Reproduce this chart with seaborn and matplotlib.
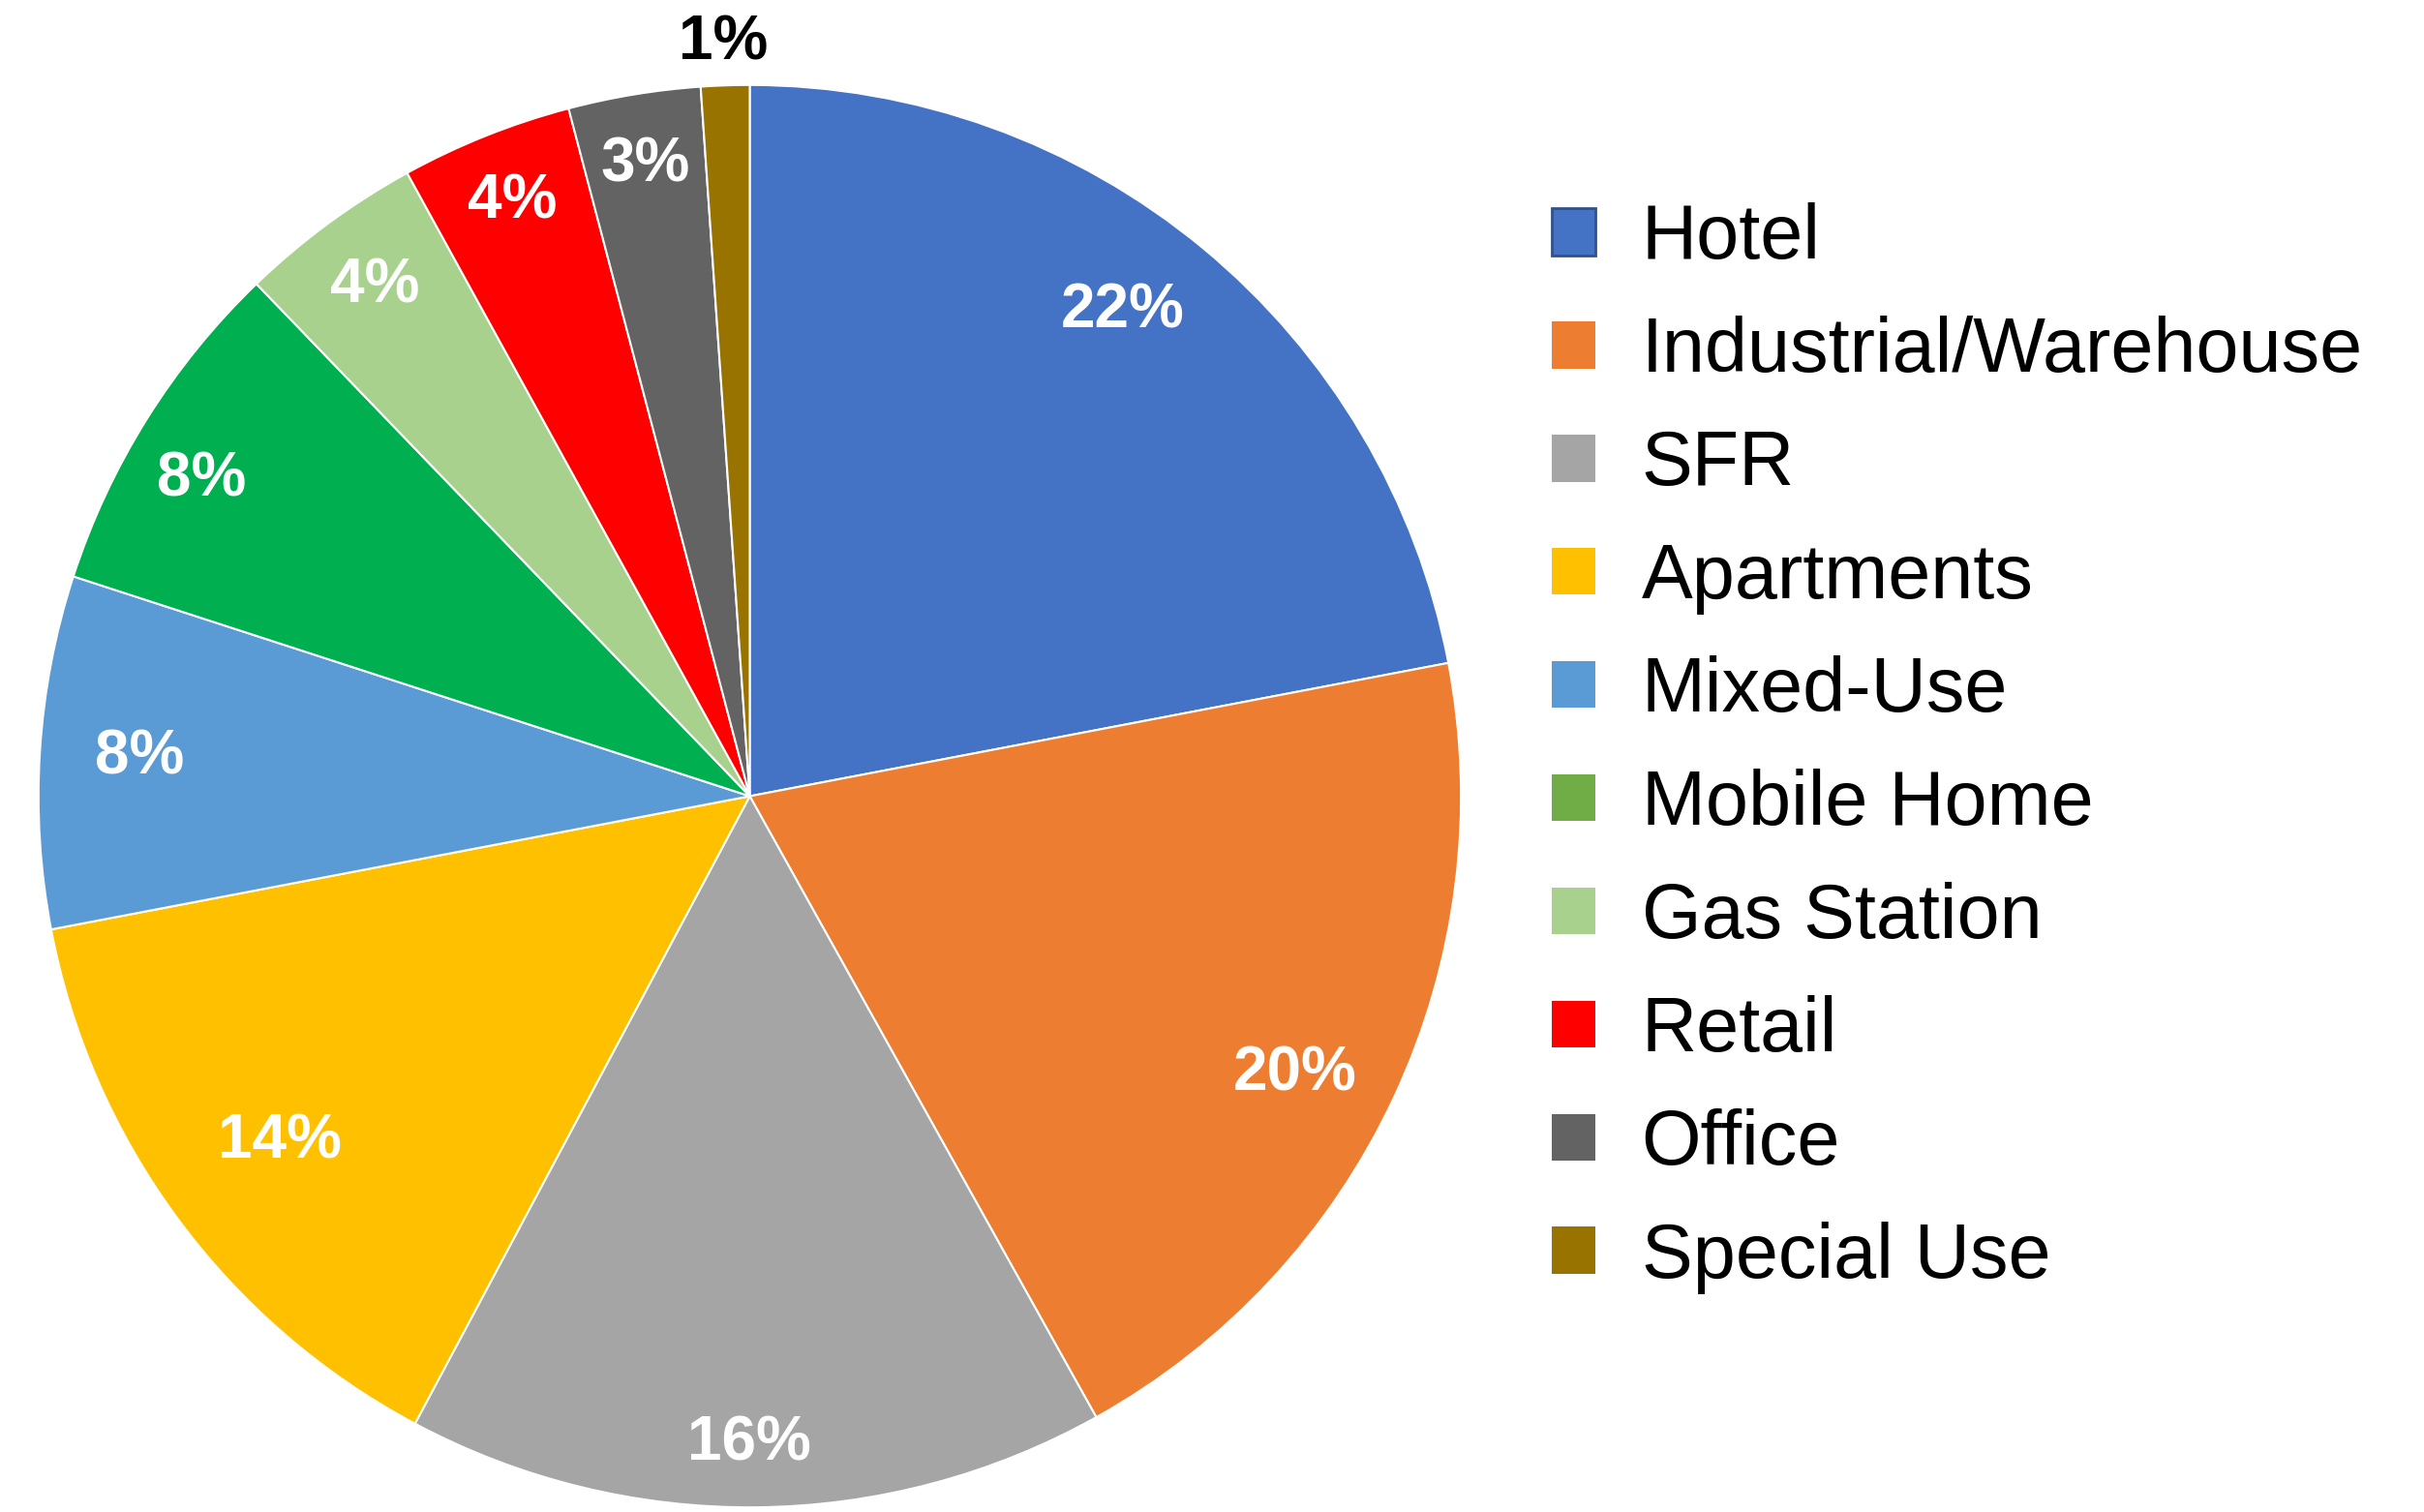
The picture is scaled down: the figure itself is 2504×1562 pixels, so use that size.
import numpy as np
import matplotlib
matplotlib.use("Agg")
import matplotlib.pyplot as plt
from matplotlib.patches import Patch
import seaborn as sns

# ---- data ----
categories = ["Hotel", "Industrial/Warehouse", "SFR", "Apartments", "Mixed-Use",
              "Mobile Home", "Gas Station", "Retail", "Office", "Special Use"]
shares = [22.0, 19.9, 15.9, 14.2, 8.0, 7.8, 4.2, 3.9, 3.0, 1.1]
pct_labels = ["22%", "20%", "16%", "14%", "8%", "8%", "4%", "4%", "3%", "1%"]

# ---- style ----
slice_colors = ["#4472C4", "#ED7D31", "#A5A5A5", "#FFC000", "#5B9BD5",
                "#00B050", "#A9D18E", "#FF0000", "#636363", "#997300"]
legend_colors = ["#4472C4", "#ED7D31", "#A5A5A5", "#FFC000", "#5B9BD5",
                 "#70AD47", "#A9D18E", "#FF0000", "#636363", "#997300"]
label_dist = [0.86, 0.86, 0.91, 0.82, 0.86, 0.89, 0.89, 0.90, 0.90, 1.06]
label_rot = [2.0, -2.0, -0.6, 0.0, 0.0, 2.0, 0.0, 0.0, 0.0, 0.0]  # small angular nudges (deg)
label_colors = ["white"] * 9 + ["black"]

sns.set_theme(style="white")
plt.rcParams["font.family"] = ["Liberation Sans", "DejaVu Sans"]
plt.rcParams["text.color"] = "black"

fig = plt.figure(figsize=(25.04, 15.62), dpi=100)
fig.patch.set_facecolor("white")

cx, cy, r = 774.5, 822.5, 734.7
W, H = 2504, 1562
ax = fig.add_axes([(cx - r) / W, (H - cy - r) / H, 2 * r / W, 2 * r / H])

wedges, _ = ax.pie(shares, colors=slice_colors, startangle=90, counterclock=False,
                   radius=1.0, wedgeprops=dict(edgecolor="white", linewidth=1.5))
ax.set_xlim(-1, 1)
ax.set_ylim(-1, 1)
ax.set_aspect("equal")
ax.axis("off")

for w, lab, d, rot, c in zip(wedges, pct_labels, label_dist, label_rot, label_colors):
    ang = np.deg2rad((w.theta1 + w.theta2) / 2.0 + rot)
    ax.text(d * np.cos(ang), d * np.sin(ang), lab, ha="center", va="center",
            fontsize=46, fontweight="bold", color=c)

handles = []
for i, (cat, col) in enumerate(zip(categories, legend_colors)):
    ec = "#2F528F" if i == 0 else col
    handles.append(Patch(facecolor=col, edgecolor=ec, linewidth=2 if i == 0 else 0))

leg = fig.legend(handles, categories, loc="center left", bbox_to_anchor=(1603 / W, 1 - 773 / H),
                 frameon=False, fontsize=57, handlelength=0.57, handleheight=0.57,
                 handletextpad=0.6, labelspacing=0.53, borderpad=0, borderaxespad=0)
for t in leg.get_texts():
    t.set_color("black")

fig.savefig("out.png", dpi=100, facecolor="white")
